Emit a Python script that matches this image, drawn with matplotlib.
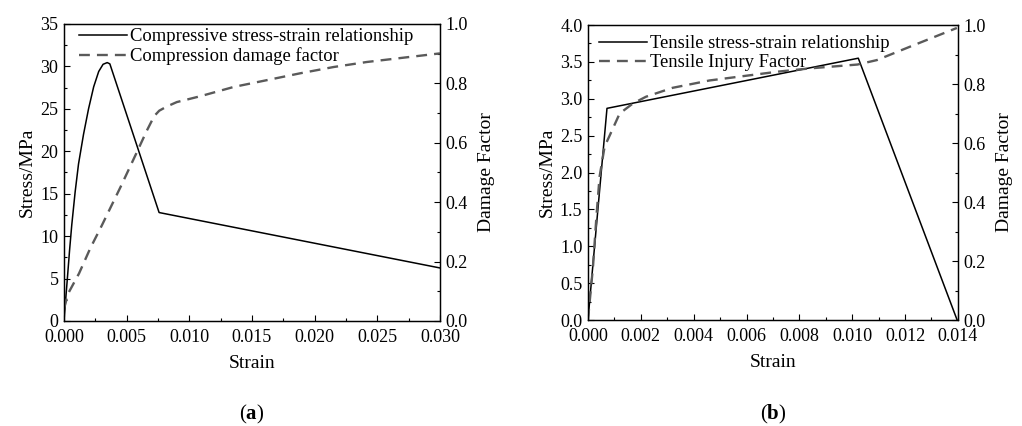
import matplotlib
matplotlib.use("Agg")
import matplotlib.pyplot as plt
from matplotlib.ticker import MultipleLocator

plt.rcParams["font.family"] = ["Liberation Serif", "DejaVu Serif"]
plt.rcParams["mathtext.fontset"] = "custom"
plt.rcParams["mathtext.rm"] = "Liberation Serif"
plt.rcParams["mathtext.bf"] = "Liberation Serif:bold"

# (a) compression
comp_strain = [0.0, 0.0001, 0.00027, 0.00045, 0.00062, 0.00089, 0.00116, 0.00156,
               0.00196, 0.00237, 0.00277, 0.00312, 0.00345, 0.00366, 0.00759, 0.030]
comp_stress = [0.0, 1.9, 5.0, 8.4, 11.3, 15.2, 18.5, 22.0,
               25.0, 27.6, 29.4, 30.25, 30.45, 30.3, 12.78, 6.25]
comp_dmg_strain = [0.0, 0.0003, 0.0012, 0.0021, 0.003, 0.0045, 0.0058, 0.0066,
                   0.0072, 0.0076, 0.0082, 0.009, 0.0109, 0.01354, 0.0162, 0.01885,
                   0.0215, 0.02416, 0.030]
comp_dmg = [0.04, 0.09, 0.16, 0.245, 0.32, 0.45, 0.567, 0.64,
            0.69, 0.708, 0.722, 0.737, 0.757, 0.788, 0.811, 0.834,
            0.855, 0.872, 0.901]

# (b) tension
ten_strain = [0.0, 0.00072, 0.01023, 0.01397]
ten_stress = [0.0, 2.87, 3.55, 0.0]
ten_dmg_strain = [0.0, 0.00019, 0.00032, 0.00044, 0.00063, 0.00082, 0.0012, 0.0017,
                  0.0022, 0.0032, 0.0046, 0.0059, 0.0072, 0.0084, 0.0102, 0.01093,
                  0.0122, 0.01396]
ten_dmg = [0.0, 0.18, 0.35, 0.486, 0.588, 0.625, 0.70, 0.734,
           0.757, 0.787, 0.812, 0.827, 0.842, 0.853, 0.866, 0.881,
           0.927, 0.99]

TICK_FS = 13
TEXT_FS = 14
LEG_FS = 13.4
GRAY = "#5a5a5a"

fig = plt.figure(figsize=(10.22, 4.26), dpi=100)


def style_axis(ax, right=False):
    for s in ax.spines.values():
        s.set_linewidth(0.9)
    ax.tick_params(which="both", direction="in", labelsize=TICK_FS, width=0.8,
                   top=False, right=right, left=not right,
                   labelright=right, labelleft=not right)
    ax.tick_params(which="major", length=4.5, pad=4)
    ax.tick_params(which="minor", length=2.5)


def panel(rect, xs, ys, xd, yd, xmax, xmaj, xmin, ymax, ymaj, ymin,
          labels, tag, leg_anchor):
    ax = fig.add_axes(rect)
    ax2 = ax.twinx()
    l1, = ax.plot(xs, ys, color="black", lw=1.1, label=labels[0])
    l2, = ax2.plot(xd, yd, color=GRAY, lw=1.7, dashes=(4.6, 3.0), label=labels[1])
    ax.set_xlim(0, xmax)
    ax.set_ylim(0, ymax)
    ax2.set_ylim(0, 1.0)
    ax.xaxis.set_major_locator(MultipleLocator(xmaj))
    ax.xaxis.set_minor_locator(MultipleLocator(xmin))
    ax.yaxis.set_major_locator(MultipleLocator(ymaj))
    ax.yaxis.set_minor_locator(MultipleLocator(ymin))
    ax2.yaxis.set_major_locator(MultipleLocator(0.2))
    ax2.yaxis.set_minor_locator(MultipleLocator(0.1))
    style_axis(ax)
    style_axis(ax2, right=True)
    ax.tick_params(axis="x", which="major", pad=5.5)
    ax.set_xlabel("Strain", fontsize=TEXT_FS, labelpad=7)
    ax.set_ylabel("Stress/MPa", fontsize=TEXT_FS, labelpad=3)
    ax2.set_ylabel("Damage Factor", fontsize=TEXT_FS, labelpad=7)
    ax.legend([l1, l2], labels, loc="upper left", bbox_to_anchor=leg_anchor,
              frameon=False, fontsize=LEG_FS, handlelength=2.6, handletextpad=0.15,
              labelspacing=0.1, borderaxespad=0, borderpad=0)
    cx = rect[0] + rect[2] / 2
    fig.text(cx, 0.026, r"$\mathrm{(}\mathbf{" + tag + r"}\mathrm{)}$",
             ha="center", va="center", fontsize=15)
    return ax


panel([0.0626, 0.2465, 0.3679, 0.6972], comp_strain, comp_stress,
      comp_dmg_strain, comp_dmg, 0.030, 0.005, 0.0025, 35, 5, 2.5,
      ["Compressive stress-strain relationship", "Compression damage factor"],
      "a", (0.04, 0.985))

panel([0.5753, 0.2488, 0.3620, 0.6925], ten_strain, ten_stress,
      ten_dmg_strain, ten_dmg, 0.014, 0.002, 0.001, 4.0, 0.5, 0.25,
      ["Tensile stress-strain relationship", "Tensile Injury Factor"],
      "b", (0.03, 0.965))

fig.savefig("out.png", dpi=100)
